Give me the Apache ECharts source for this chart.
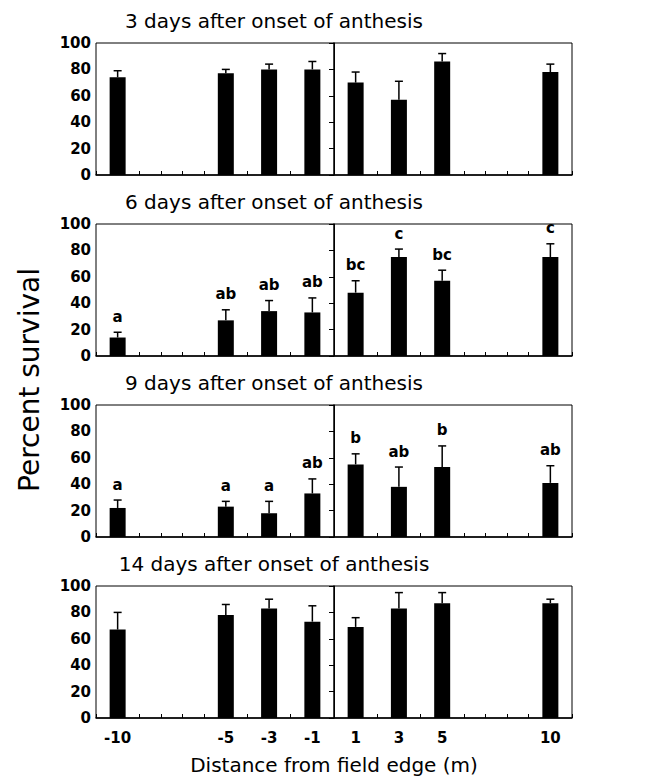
<!DOCTYPE html>
<html>
<head>
<meta charset="utf-8">
<script src="https://cdn.jsdelivr.net/npm/echarts@6/dist/echarts.min.js"></script>
<style>
html,body{margin:0;padding:0;background:#fff;}
#chart{width:656px;height:778px;}
</style>
</head>
<body>
<div id="chart"></div>
<script>
// ---- Data ----
const distances = [-10, -5, -3, -1, 1, 3, 5, 10];
const panelTitles = [
  '3 days after onset of anthesis',
  '6 days after onset of anthesis',
  '9 days after onset of anthesis',
  '14 days after onset of anthesis'
];
const survival3 = [74, 77, 80, 80, 70, 57, 86, 78];
const error3 = [5, 3, 4, 6, 8, 14, 6, 6];
const letters3 = ['', '', '', '', '', '', '', ''];
const survival6 = [14, 27, 34, 33, 48, 75, 57, 75];
const error6 = [4, 8, 8, 11, 9, 6, 8, 10];
const letters6 = ['a', 'ab', 'ab', 'ab', 'bc', 'c', 'bc', 'c'];
const survival9 = [22, 23, 18, 33, 55, 38, 53, 41];
const error9 = [6, 4, 9, 11, 8, 15, 16, 13];
const letters9 = ['a', 'a', 'a', 'ab', 'b', 'ab', 'b', 'ab'];
const survival14 = [67, 78, 83, 73, 69, 83, 87, 87];
const error14 = [13, 8, 7, 12, 7, 12, 8, 3];
const letters14 = ['', '', '', '', '', '', '', ''];
const yTickLabels = [0, 20, 40, 60, 80, 100];
const xAxisName = 'Distance from field edge (m)';
const yAxisName = 'Percent survival';

const panels = [
  { title: panelTitles[0], values: survival3, errors: error3, letters: letters3 },
  { title: panelTitles[1], values: survival6, errors: error6, letters: letters6 },
  { title: panelTitles[2], values: survival9, errors: error9, letters: letters9 },
  { title: panelTitles[3], values: survival14, errors: error14, letters: letters14 }
];

// ---- Layout ----
const gridLeft = 96, gridWidth = 476, gridHeight = 132;
const gridTops = [43, 224, 405, 586];
const FONT = 'DejaVu Sans';

const chart = echarts.init(document.getElementById('chart'), null, { renderer: 'svg' });

const grids = [], xAxes = [], yAxes = [], series = [], graphics = [];

panels.forEach((p, i) => {
  const isLast = i === panels.length - 1;
  grids.push({
    left: gridLeft, top: gridTops[i], width: gridWidth, height: gridHeight,
    show: true, borderColor: '#000', borderWidth: 1, backgroundColor: 'transparent'
  });
  xAxes.push({
    type: 'value', gridIndex: i, min: -11, max: 11, interval: 1,
    axisLine: { show: true, onZero: false, lineStyle: { color: '#000', width: 1.5 } },
    axisTick: { show: true, inside: true, length: 4, lineStyle: { color: '#000', width: 1 } },
    splitLine: { show: false },
    axisLabel: {
      show: isLast, margin: 12, color: '#000',
      fontFamily: FONT, fontWeight: 'bold', fontSize: 15,
      formatter: v => distances.indexOf(v) >= 0 ? String(v) : ''
    }
  });
  yAxes.push({
    type: 'value', gridIndex: i, min: yTickLabels[0], max: yTickLabels[yTickLabels.length - 1], interval: 20,
    axisLine: { show: true, lineStyle: { color: '#000', width: 1.5 } },
    axisTick: { show: true, inside: false, length: 5, lineStyle: { color: '#000', width: 1 } },
    splitLine: { show: false },
    axisLabel: { color: '#000', fontFamily: FONT, fontWeight: 'bold', fontSize: 15, margin: 5 }
  });
  series.push({
    type: 'bar', xAxisIndex: i, yAxisIndex: i,
    data: distances.map((d, k) => [d, p.values[k]]),
    barWidth: 16,
    itemStyle: { color: '#000' },
    silent: true,
    markLine: {
      silent: true, symbol: 'none',
      label: { show: false },
      lineStyle: { color: '#000', width: 1, type: 'solid' },
      data: [{ xAxis: 0 }]
    }
  });
  series.push({
    type: 'custom', xAxisIndex: i, yAxisIndex: i,
    data: distances.map((d, k) => [d, p.values[k], p.errors[k]]),
    encode: { x: 0, y: 1 },
    silent: true,
    z: 5,
    renderItem: (params, api) => {
      const x = api.value(0), y = api.value(1), e = api.value(2);
      const base = api.coord([x, y]);
      const top = api.coord([x, y + e]);
      const children = [
        { type: 'line', shape: { x1: base[0], y1: base[1], x2: top[0], y2: top[1] },
          style: { stroke: '#000', lineWidth: 1.5 } },
        { type: 'line', shape: { x1: top[0] - 4, y1: top[1], x2: top[0] + 4, y2: top[1] },
          style: { stroke: '#000', lineWidth: 1.5 } }
      ];
      const letter = p.letters[params.dataIndex];
      if (letter) {
        children.push({
          type: 'text',
          style: {
            text: letter, x: top[0], y: top[1] - 8,
            align: 'center', verticalAlign: 'bottom',
            fill: '#000', fontFamily: FONT, fontWeight: 'bold', fontSize: 15
          }
        });
      }
      return { type: 'group', children: children };
    }
  });
  graphics.push({
    type: 'text', x: 274, y: gridTops[i] - 22,
    style: {
      text: p.title, align: 'center', verticalAlign: 'middle',
      fill: '#000', fontFamily: FONT, fontSize: 20
    }
  });
});

graphics.push({
  type: 'text', x: 334, y: 765,
  style: { text: xAxisName, align: 'center', verticalAlign: 'middle', fill: '#000', fontFamily: FONT, fontSize: 20 }
});
graphics.push({
  type: 'text', x: 29, y: 380, rotation: Math.PI / 2,
  style: { text: yAxisName, align: 'center', verticalAlign: 'middle', fill: '#000', fontFamily: FONT, fontSize: 28 }
});

chart.setOption({
  animation: false,
  backgroundColor: '#fff',
  grid: grids,
  xAxis: xAxes,
  yAxis: yAxes,
  series: series,
  graphic: graphics
});
</script>
</body>
</html>
